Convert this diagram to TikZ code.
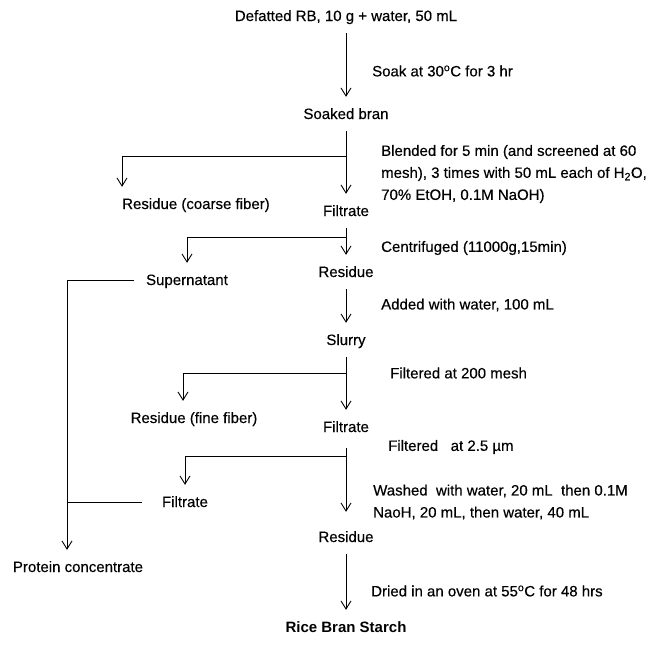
\documentclass[tikz,border=0pt]{standalone}
\usepackage{fontspec}
\setmainfont{Liberation Sans}[UprightFeatures={FakeBold=0.35}]
\usetikzlibrary{arrows.meta}
\tikzset{
	stage/.style={inner xsep=0pt,inner ysep=10pt,text height=12pt,text depth=2pt},
	note/.style={anchor=west,inner sep=0pt,align=left},
	plain/.style={line width=0.9pt},
	flow/.style={plain,-{Straight Barb[length=8pt,width=10pt]}}
}
\begin{document}
\begin{tikzpicture}[x=1pt,y=-1pt,font=\fontsize{15}{22}\selectfont]
	\useasboundingbox (0,0) rectangle (651,653);
	% main column
	\foreach \n/\y/\t in {defat/16/{Defatted RB, 10 g + water, 50 mL},soaked/114/{Soaked bran},
		filtA/211/Filtrate,resA/272/Residue,slurry/340/Slurry,filtB/427/Filtrate,resB/537/Residue}{
		\node[stage] (\n) at (346,\y) {\t};
	}
	\node[stage,font=\fontsize{15}{22}\selectfont\bfseries] (starch) at (346,627) {Rice Bran Starch};
	% side products
	\node[stage,anchor=west] (coarse) at (122,204) {Residue (coarse fiber)};
	\node[stage] (super) at (187,280) {Supernatant};
	\node[stage] (fine) at (194,418) {Residue (fine fiber)};
	\node[stage] (filtL) at (185,502) {Filtrate};
	\node[stage] (protein) at (78,567) {Protein concentrate};
	% step notes
	\node[note] (lsoak) at (372,71) {Soak at 30\textsuperscript{o}C for 3 hr};
	\node[note] (lblend) at (381,174) {Blended for 5 min (and screened at 60\\
		mesh), 3 times with 50 mL each of H\textsubscript{2}O,\\70\% EtOH, 0.1M NaOH)};
	\node[note] (lcent) at (381,248) {Centrifuged (11000g,15min)};
	\node[note] (ladd) at (381,305) {Added with water, 100 mL};
	\node[note] (lmesh) at (390,373) {Filtered at 200 mesh};
	\node[note] (lpore) at (388,447) {Filtered\ \ \ at 2.5 µm};
	\node[note] (lwash) at (373,502) {Washed\ \ with water, 20 mL\ \ then 0.1M\\
		NaoH, 20 mL, then water, 40 mL};
	\node[note] (ldry) at (371,591) {Dried in an oven at 55\textsuperscript{o}C for 48 hrs};
	% branch points
	\path (346,156) coordinate (br1) (346,237) coordinate (br2)
		(346,373) coordinate (br3) (346,456) coordinate (br4);
	\coordinate (pcol) at ([xshift=-11pt]protein.north);
	% arrows
	\draw[flow] (defat) -- (soaked);
	\draw[flow] (soaked) -- (filtA);
	\draw[flow] (filtA) -- (resA);
	\draw[flow] (resA) -- (slurry);
	\draw[flow] (slurry) -- (filtB);
	\draw[flow,shorten <=4pt,shorten >=8pt] (filtB) -- (resB);
	\draw[flow] (resB) -- (starch);
	\draw[flow] (br1) -| (coarse.north west);
	\draw[flow] (br2) -| (super);
	\draw[flow] (br3) -| ([xshift=-11pt]fine.north);
	\draw[flow] (br4) -| (filtL);
	\draw[flow,shorten <=12pt] (super.west) -| (pcol);
	\draw[plain,shorten <=20pt] (filtL.west) -- (filtL.west -| pcol);
\end{tikzpicture}
\end{document}
